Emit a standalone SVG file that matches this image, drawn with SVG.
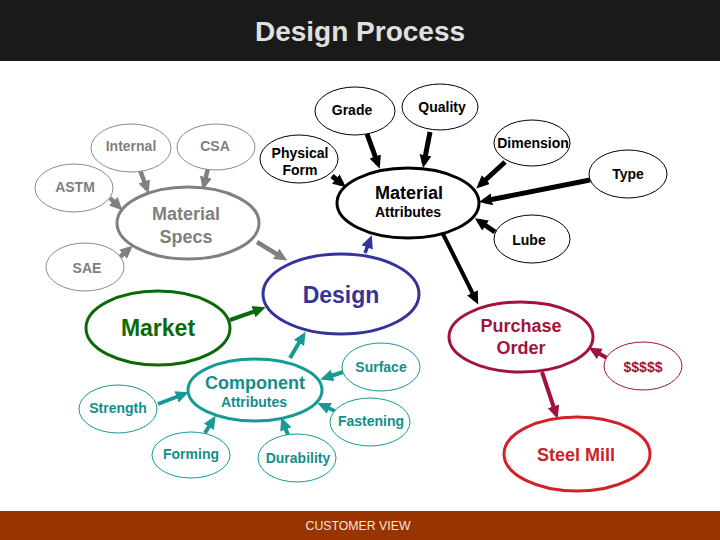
<svg xmlns="http://www.w3.org/2000/svg" width="720" height="540" viewBox="0 0 720 540">
<style>
text{font-family:"Liberation Sans",Arial,sans-serif;font-weight:bold;text-anchor:middle}
.thin{fill:#fff;stroke-width:1}
.thick{fill:#fff;stroke-width:3}
.g{stroke:#8a8a8a}.gt{fill:#7f7f7f}
.k{stroke:#000}.kt{fill:#000}
.t{stroke:#169a95}.tt{fill:#138e8c}
.s14{font-size:14px}.s18{font-size:18px}
.c{fill:none;stroke-linecap:butt}
</style>
<defs>
<marker id="ag" markerUnits="userSpaceOnUse" markerWidth="14" markerHeight="14" refX="8" refY="6" orient="auto"><path d="M0,0L13,6L0,12z" fill="#808080"/></marker>
<marker id="ak" markerUnits="userSpaceOnUse" markerWidth="14" markerHeight="14" refX="8" refY="6" orient="auto"><path d="M0,0L13,6L0,12z" fill="#000"/></marker>
<marker id="at" markerUnits="userSpaceOnUse" markerWidth="14" markerHeight="14" refX="8" refY="6" orient="auto"><path d="M0,0L13,6L0,12z" fill="#169a95"/></marker>
<marker id="agr" markerUnits="userSpaceOnUse" markerWidth="14" markerHeight="14" refX="8" refY="6" orient="auto"><path d="M0,0L13,6L0,12z" fill="#0a6a0a"/></marker>
<marker id="ab" markerUnits="userSpaceOnUse" markerWidth="14" markerHeight="14" refX="8" refY="6" orient="auto"><path d="M0,0L13,6L0,12z" fill="#333399"/></marker>
<marker id="ar" markerUnits="userSpaceOnUse" markerWidth="14" markerHeight="14" refX="8" refY="6" orient="auto"><path d="M0,0L13,6L0,12z" fill="#a0143c"/></marker>
</defs>
<rect width="720" height="540" fill="#fff"/>
<rect x="0" y="0" width="720" height="61" fill="#1a1a1a"/>
<text x="360" y="41" style="font-size:28px;fill:#e0e0e0">Design Process</text>
<rect x="0" y="511" width="720" height="29" fill="#993300"/>
<text x="358" y="530" style="font-size:12.3px;font-weight:normal;fill:#f3e6d6">CUSTOMER VIEW</text>

<g id="connectors" class="c">
<line x1="140" y1="170" x2="147" y2="189" stroke="#808080" stroke-width="4.5" marker-end="url(#ag)"/>
<line x1="208" y1="168" x2="204" y2="185" stroke="#808080" stroke-width="4.5" marker-end="url(#ag)"/>
<line x1="110" y1="198" x2="119" y2="207" stroke="#808080" stroke-width="4.5" marker-end="url(#ag)"/>
<line x1="120" y1="257" x2="129" y2="249" stroke="#808080" stroke-width="4.5" marker-end="url(#ag)"/>
<line x1="257" y1="242" x2="283" y2="258" stroke="#808080" stroke-width="4.5" marker-end="url(#ag)"/>
<line x1="367" y1="134" x2="378" y2="164" stroke="#000" stroke-width="5" marker-end="url(#ak)"/>
<line x1="430" y1="132" x2="424" y2="163" stroke="#000" stroke-width="5" marker-end="url(#ak)"/>
<line x1="332" y1="176" x2="342" y2="184" stroke="#000" stroke-width="5" marker-end="url(#ak)"/>
<line x1="505" y1="162" x2="480" y2="185" stroke="#000" stroke-width="5" marker-end="url(#ak)"/>
<line x1="590" y1="180" x2="484" y2="201" stroke="#000" stroke-width="5" marker-end="url(#ak)"/>
<line x1="495" y1="232" x2="479" y2="221" stroke="#000" stroke-width="5" marker-end="url(#ak)"/>
<line x1="443" y1="234" x2="476" y2="300" stroke="#000" stroke-width="4" marker-end="url(#ak)"/>
<line x1="365" y1="253" x2="370" y2="240" stroke="#333399" stroke-width="3.5" marker-end="url(#ab)"/>
<line x1="230" y1="320" x2="261" y2="309" stroke="#0a6a0a" stroke-width="4" marker-end="url(#agr)"/>
<line x1="290" y1="358" x2="303" y2="336" stroke="#169a95" stroke-width="4" marker-end="url(#at)"/>
<line x1="158" y1="404" x2="184" y2="394" stroke="#169a95" stroke-width="4" marker-end="url(#at)"/>
<line x1="205" y1="433" x2="213" y2="420" stroke="#169a95" stroke-width="4" marker-end="url(#at)"/>
<line x1="288" y1="435" x2="283" y2="422" stroke="#169a95" stroke-width="4" marker-end="url(#at)"/>
<line x1="337" y1="412" x2="322" y2="405" stroke="#169a95" stroke-width="4" marker-end="url(#at)"/>
<line x1="343" y1="372" x2="325" y2="378" stroke="#169a95" stroke-width="4" marker-end="url(#at)"/>
<line x1="607" y1="358" x2="593" y2="350" stroke="#a0143c" stroke-width="4" marker-end="url(#ar)"/>
<line x1="542" y1="372" x2="556" y2="414" stroke="#a0143c" stroke-width="4" marker-end="url(#ar)"/>
</g>

<g id="internal"><ellipse cx="131" cy="148" rx="40" ry="24" class="thin g"/><text x="131" y="151" class="s14 gt">Internal</text></g>
<g id="csa"><ellipse cx="216" cy="147" rx="39" ry="23" class="thin g"/><text x="215" y="151" class="s14 gt">CSA</text></g>
<g id="astm"><ellipse cx="74" cy="188" rx="39" ry="24" class="thin g"/><text x="75" y="192" class="s14 gt">ASTM</text></g>
<g id="sae"><ellipse cx="85" cy="267" rx="39" ry="24" class="thin g"/><text x="87" y="273" class="s14 gt">SAE</text></g>
<g id="material-specs"><ellipse cx="188" cy="223" rx="71" ry="36" class="thick" stroke="#808080"/><text x="186" y="220" class="s18 gt">Material</text><text x="186" y="243" class="s18 gt">Specs</text></g>

<g id="physical-form"><ellipse cx="299" cy="159" rx="39" ry="24" class="thin k"/><text x="300" y="158" class="s14 kt">Physical</text><text x="300" y="175" class="s14 kt">Form</text></g>
<g id="grade"><ellipse cx="355" cy="111" rx="40" ry="24" class="thin k"/><text x="352" y="115" class="s14 kt">Grade</text></g>
<g id="quality"><ellipse cx="440" cy="107" rx="38" ry="23" class="thin k"/><text x="442" y="112" class="s14 kt">Quality</text></g>
<g id="material-attributes"><ellipse cx="408" cy="203" rx="71" ry="35" class="thick k" stroke-width="3.5"/><text x="409" y="199" class="s18 kt">Material</text><text x="408" y="217" class="s14 kt">Attributes</text></g>
<g id="dimension"><ellipse cx="532" cy="143" rx="38" ry="23" class="thin k"/><text x="533" y="148" class="s14 kt">Dimension</text></g>
<g id="type"><ellipse cx="628" cy="174" rx="39" ry="24" class="thin k"/><text x="628" y="179" class="s14 kt">Type</text></g>
<g id="lube"><ellipse cx="532" cy="239" rx="38" ry="24" class="thin k"/><text x="529" y="245" class="s14 kt">Lube</text></g>

<g id="design"><ellipse cx="341" cy="294" rx="78" ry="40" fill="#fff" stroke="#333399" stroke-width="3"/><text x="341" y="303" style="font-size:23px;fill:#333399">Design</text></g>
<g id="market"><ellipse cx="158" cy="328" rx="72" ry="37" fill="#fff" stroke="#0a6a0a" stroke-width="3"/><text x="158" y="336" style="font-size:23px;fill:#0a6a0a">Market</text></g>

<g id="purchase-order"><ellipse cx="521" cy="337" rx="72" ry="35" fill="#fff" stroke="#a0143c" stroke-width="3"/><text x="521" y="332" class="s18" fill="#a0143c">Purchase</text><text x="521" y="354" class="s18" fill="#a0143c">Order</text></g>
<g id="dollars"><ellipse cx="643" cy="366" rx="39" ry="24" fill="#fff" stroke="#a0143c" stroke-width="1"/><text x="643" y="372" class="s14" fill="#a0143c">$$$$$</text></g>
<g id="steel-mill"><ellipse cx="577" cy="454" rx="73" ry="37" fill="#fff" stroke="#d3202a" stroke-width="3"/><text x="576" y="461" class="s18" fill="#cc1f28">Steel Mill</text></g>

<g id="component-attributes"><ellipse cx="255" cy="390" rx="67" ry="31" class="thick t"/><text x="255" y="389" class="s18 tt">Component</text><text x="254" y="407" class="s14 tt">Attributes</text></g>
<g id="surface"><ellipse cx="381" cy="367" rx="39" ry="24" class="thin t"/><text x="381" y="372" class="s14 tt">Surface</text></g>
<g id="strength"><ellipse cx="118" cy="409" rx="39" ry="24" class="thin t"/><text x="118" y="413" class="s14 tt">Strength</text></g>
<g id="fastening"><ellipse cx="370" cy="422" rx="40" ry="24" class="thin t"/><text x="371" y="426" class="s14 tt">Fastening</text></g>
<g id="forming"><ellipse cx="191" cy="455" rx="39" ry="23" class="thin t"/><text x="191" y="459" class="s14 tt">Forming</text></g>
<g id="durability"><ellipse cx="297" cy="458" rx="39" ry="24" class="thin t"/><text x="298" y="463" class="s14 tt">Durability</text></g>
</svg>
